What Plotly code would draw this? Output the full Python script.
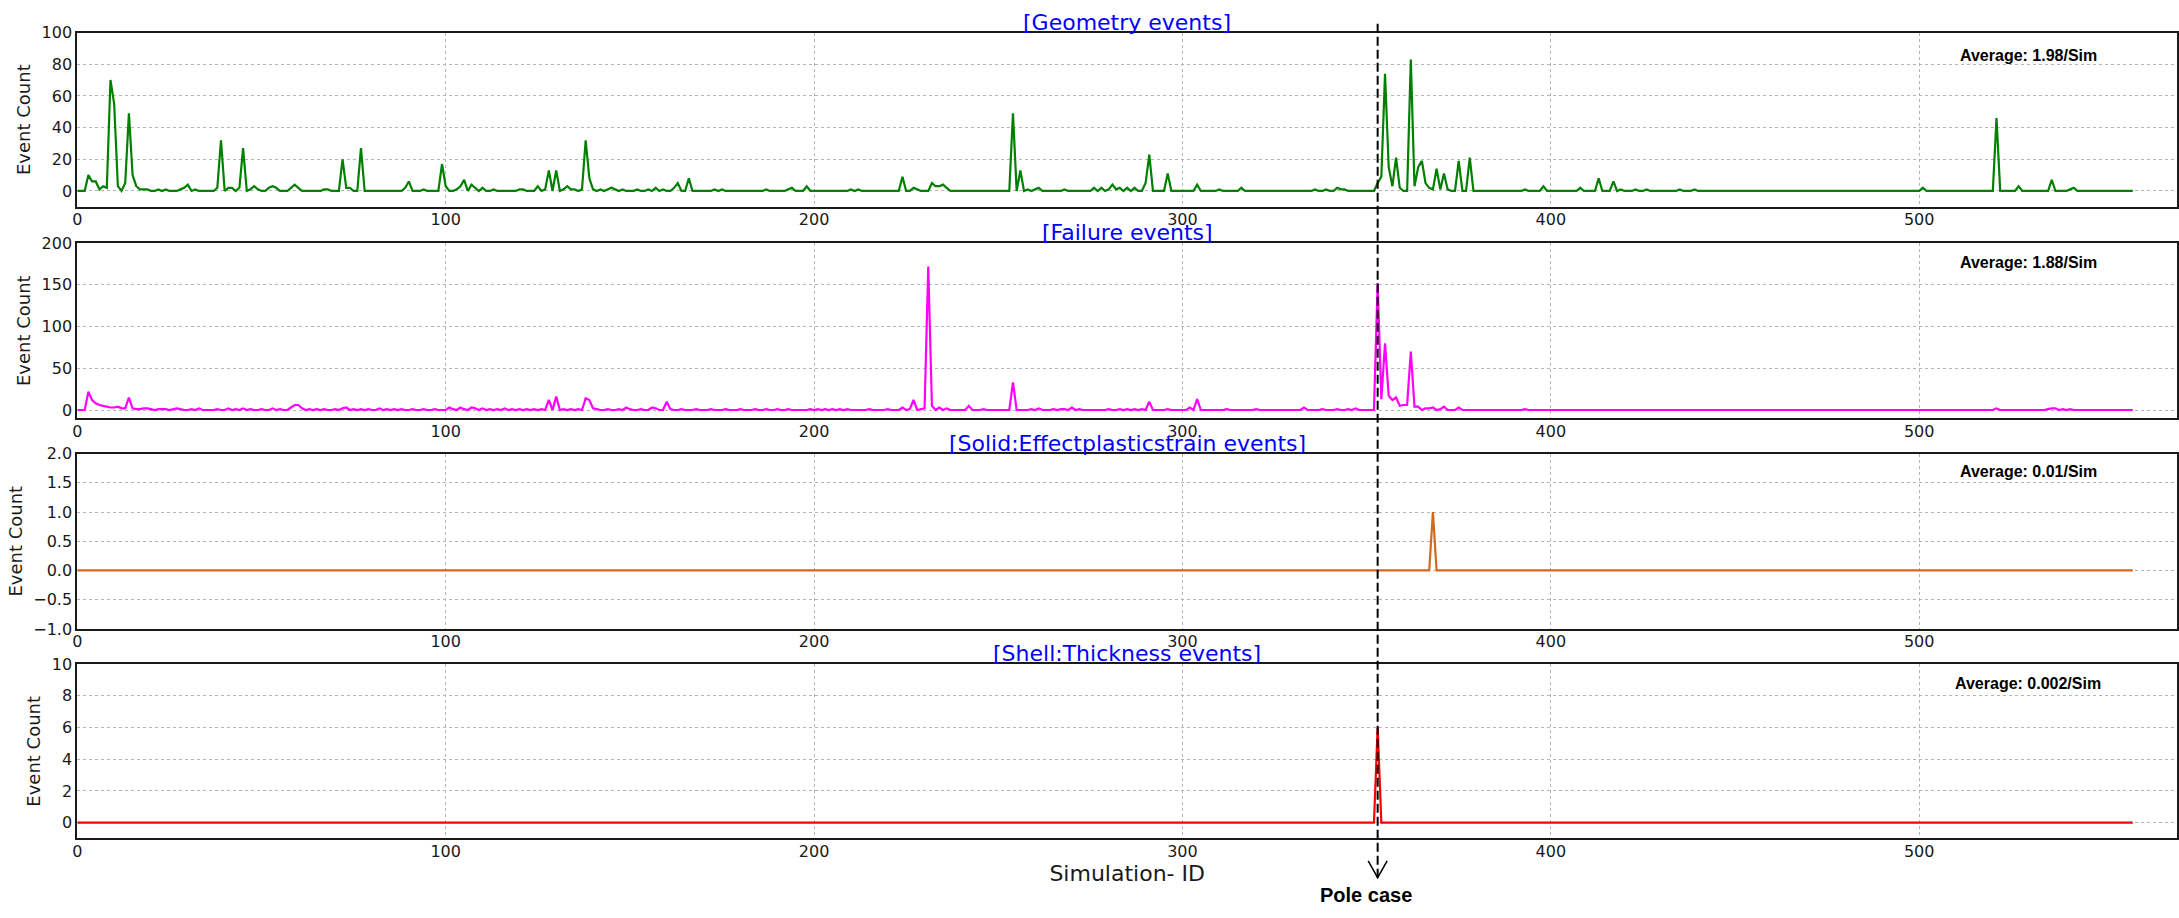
import plotly.graph_objects as go

# ---------------- data ----------------
N_SIMS = 559
sim_id = list(range(N_SIMS))
POLE_CASE_ID = 353

geometry_nonzero = {
    3: 10, 4: 6, 5: 6, 6: 1, 7: 3, 8: 2, 9: 70, 10: 55, 11: 3, 13: 5, 14: 49, 15: 10, 16: 3,
    17: 1, 18: 1, 19: 1, 22: 1, 24: 1, 28: 1, 29: 2, 30: 4, 32: 1, 38: 2, 39: 32, 41: 2, 42: 2,
    44: 2, 45: 27, 47: 1, 48: 3, 49: 1, 52: 2, 53: 3, 54: 2, 58: 2, 59: 4, 60: 2, 67: 1, 68: 1,
    72: 20, 73: 2, 74: 2, 77: 27, 89: 2, 90: 6, 94: 1, 99: 17, 100: 3, 103: 1, 104: 3, 105: 7,
    107: 4, 108: 2, 110: 2, 113: 1, 120: 1, 121: 1, 125: 3, 127: 1, 128: 13, 130: 13, 132: 1,
    133: 3, 134: 1, 135: 1, 137: 1, 138: 32, 139: 8, 140: 1, 142: 1, 144: 1, 145: 2, 146: 1,
    148: 1, 152: 1, 155: 1, 157: 2, 159: 1, 162: 2, 163: 5, 166: 8, 173: 1, 175: 1, 187: 1,
    193: 1, 194: 2, 198: 3, 210: 1, 212: 1, 224: 9, 227: 2, 228: 1, 232: 5, 233: 3, 234: 3,
    235: 4, 236: 2, 254: 49, 256: 13, 258: 1, 260: 1, 261: 2, 268: 1, 276: 2, 278: 2, 280: 1,
    281: 4, 282: 1, 283: 2, 285: 2, 287: 2, 290: 5, 291: 23, 296: 11, 304: 4, 310: 1, 316: 2,
    336: 1, 339: 1, 342: 2, 343: 1, 344: 1, 353: 5, 354: 9, 355: 74, 356: 15, 357: 3, 358: 21,
    359: 2, 362: 83, 363: 3, 364: 15, 365: 19, 366: 5, 367: 2, 368: 1, 369: 14, 370: 1, 371: 11,
    372: 1, 375: 19, 378: 21, 393: 1, 398: 3, 408: 2, 413: 8, 417: 6, 419: 1, 423: 1, 426: 1,
    435: 1, 439: 1, 501: 2, 521: 46, 527: 3, 536: 7, 541: 1, 542: 2,
}

failure_nonzero = {
    3: 22, 4: 12, 5: 8, 6: 6, 7: 5, 8: 4, 9: 3, 10: 3, 11: 4, 12: 2, 13: 2, 14: 15, 15: 2,
    16: 1, 17: 1, 18: 2, 19: 2, 20: 1, 22: 1, 23: 1, 24: 1, 26: 1, 27: 2, 28: 1, 31: 1, 33: 2,
    38: 1, 41: 2, 43: 1, 45: 2, 47: 1, 50: 1, 53: 2, 55: 1, 58: 3, 59: 6, 60: 6, 61: 2, 63: 1,
    65: 1, 67: 1, 70: 1, 72: 2, 73: 3, 75: 1, 77: 1, 79: 1, 82: 2, 84: 1, 86: 1, 88: 1, 91: 1,
    94: 1, 97: 1, 101: 3, 102: 1, 104: 3, 105: 1, 107: 3, 108: 2, 110: 2, 112: 1, 114: 1,
    116: 2, 118: 1, 120: 1, 122: 1, 124: 1, 126: 1, 128: 12, 130: 16, 132: 1, 134: 1, 136: 1,
    138: 14, 139: 12, 140: 2, 141: 1, 144: 1, 147: 1, 149: 3, 150: 1, 153: 1, 156: 3, 157: 2,
    160: 10, 161: 1, 164: 1, 168: 1, 172: 1, 176: 1, 180: 1, 184: 1, 187: 1, 190: 1, 193: 1,
    199: 1, 201: 1, 203: 1, 205: 1, 207: 1, 209: 1, 215: 1, 220: 1, 224: 3, 226: 1, 227: 12,
    229: 1, 230: 2, 231: 172, 232: 5, 234: 3, 236: 2, 242: 5, 246: 1, 254: 33, 259: 1, 261: 2,
    265: 1, 267: 1, 268: 1, 270: 3, 272: 1, 280: 1, 283: 1, 285: 1, 287: 1, 289: 1, 291: 10,
    296: 1, 302: 3, 304: 13, 312: 1, 320: 1, 333: 3, 338: 1, 342: 1, 345: 1, 347: 2,
    353: 152, 354: 13, 355: 80, 356: 17, 357: 12, 358: 15, 359: 5, 360: 6, 361: 6, 362: 70,
    363: 4, 364: 4, 366: 2, 367: 2, 368: 3, 370: 1, 371: 4, 375: 3, 393: 1, 521: 2, 535: 1,
    536: 2, 537: 2, 539: 1, 541: 1,
}

plastic_strain_nonzero = {368: 1}
shell_thickness_nonzero = {353: 6}

geometry = [geometry_nonzero.get(i, 0) for i in sim_id]
failure = [failure_nonzero.get(i, 0) for i in sim_id]
plastic_strain = [plastic_strain_nonzero.get(i, 0) for i in sim_id]
shell_thickness = [shell_thickness_nonzero.get(i, 0) for i in sim_id]

panel_titles = ["[Geometry events]", "[Failure events]",
                "[Solid:Effectplasticstrain events]", "[Shell:Thickness events]"]
average_labels = ["Average: 1.98/Sim", "Average: 1.88/Sim",
                  "Average: 0.01/Sim", "Average: 0.002/Sim"]
y_ranges = [[-10, 100], [-10, 200], [-1, 2], [-1, 10]]
y_ticks = [[0, 20, 40, 60, 80, 100], [0, 50, 100, 150, 200],
           [-1.0, -0.5, 0.0, 0.5, 1.0, 1.5, 2.0], [0, 2, 4, 6, 8, 10]]
x_ticks = [0, 100, 200, 300, 400, 500]
x_range = [0, 570]

# ---------------- styling / layout ----------------
W, H = 2179, 918
colors = ["#008000", "#ff00ff", "#d2691e", "#ff0000"]
tick_fmt = ["d", "d", ".1f", "d"]
panel_px = [(24, 202), (239, 418), (454, 633), (669, 847)]
avg_offset_px = [23, 20, 18, 19.5]
x_px = (72.5, 2177)
FONT = "DejaVu Sans"
INK = "#1a1a1a"

fig = go.Figure()
series = [geometry, failure, plastic_strain, shell_thickness]

layout = dict(
    width=W, height=H, margin=dict(l=0, r=0, t=0, b=0),
    paper_bgcolor="white", plot_bgcolor="white", showlegend=False,
    font=dict(family=FONT, color=INK, size=16),
)
annotations = []
shapes = []

xdom = [x_px[0] / W, x_px[1] / W]
for i, ys in enumerate(series):
    k = "" if i == 0 else str(i + 1)
    fig.add_trace(go.Scatter(
        x=sim_id, y=ys, mode="lines",
        line=dict(color=colors[i], width=2.2),
        xaxis="x" + k, yaxis="y" + k, hoverinfo="x+y",
    ))
    top, bot = panel_px[i]
    common = dict(
        showline=True, mirror=True, linecolor=INK, linewidth=2,
        showgrid=True, gridcolor="#b5b5b5", griddash="dot", gridwidth=1,
        zeroline=False, ticks="",
        tickfont=dict(family=FONT, size=16, color=INK),
    )
    layout["xaxis" + k] = dict(
        common, domain=xdom, range=x_range, tickvals=x_ticks,
        anchor="y" + k, ticklabelstandoff=-3,
    )
    layout["yaxis" + k] = dict(
        common, domain=[1 - bot / H, 1 - top / H], range=y_ranges[i],
        tickvals=y_ticks[i], tickformat=tick_fmt[i], anchor="x" + k,
        title=dict(text="Event Count", font=dict(family=FONT, size=18, color=INK),
                   standoff=6),
    )
    annotations.append(dict(
        text=panel_titles[i], xref="paper", yref="paper",
        x=(xdom[0] + xdom[1]) / 2, y=1 - top / H, yshift=10.5,
        xanchor="center", yanchor="middle", showarrow=False,
        font=dict(family=FONT, size=22, color="#0000ff"),
    ))
    annotations.append(dict(
        text="<b>" + average_labels[i] + "</b>", xref="paper", yref="paper",
        x=2028 / W, y=1 - (top + avg_offset_px[i]) / H,
        xanchor="center", yanchor="middle", showarrow=False,
        font=dict(family="Liberation Sans", size=16, color="black"),
    ))

layout["xaxis4"]["title"] = dict(text="Simulation- ID",
                                  font=dict(family=FONT, size=22, color=INK),
                                  standoff=2)

# pole case marker: dashed line through all panels ending in an open "V" arrow
y_top = 1 - 14 / H
y_tip = 1 - 887 / H
y_arm = 1 - 870 / H
arm_dx = 9.5 / ((x_px[1] - x_px[0]) / (x_range[1] - x_range[0]))
shapes.append(dict(
    type="line", xref="x4", yref="paper", x0=POLE_CASE_ID, x1=POLE_CASE_ID,
    y0=y_tip, y1=y_top, line=dict(color="black", width=2, dash="9px,4px"),
    layer="above",
))
shapes.append(dict(
    type="path", xref="x4", yref="paper", layer="above",
    path=f"M {POLE_CASE_ID - arm_dx},{y_arm} L {POLE_CASE_ID},{y_tip} L {POLE_CASE_ID + arm_dx},{y_arm}",
    line=dict(color="black", width=1.5),
))
annotations.append(dict(
    text="<b>Pole case</b>", xref="x4", yref="paper", x=POLE_CASE_ID, xshift=-12,
    y=1 - 905 / H, xanchor="center", yanchor="middle", showarrow=False,
    font=dict(family="Liberation Sans", size=20, color="black"),
))

layout["annotations"] = annotations
layout["shapes"] = shapes
fig.update_layout(**layout)
fig.write_html("out.html")
